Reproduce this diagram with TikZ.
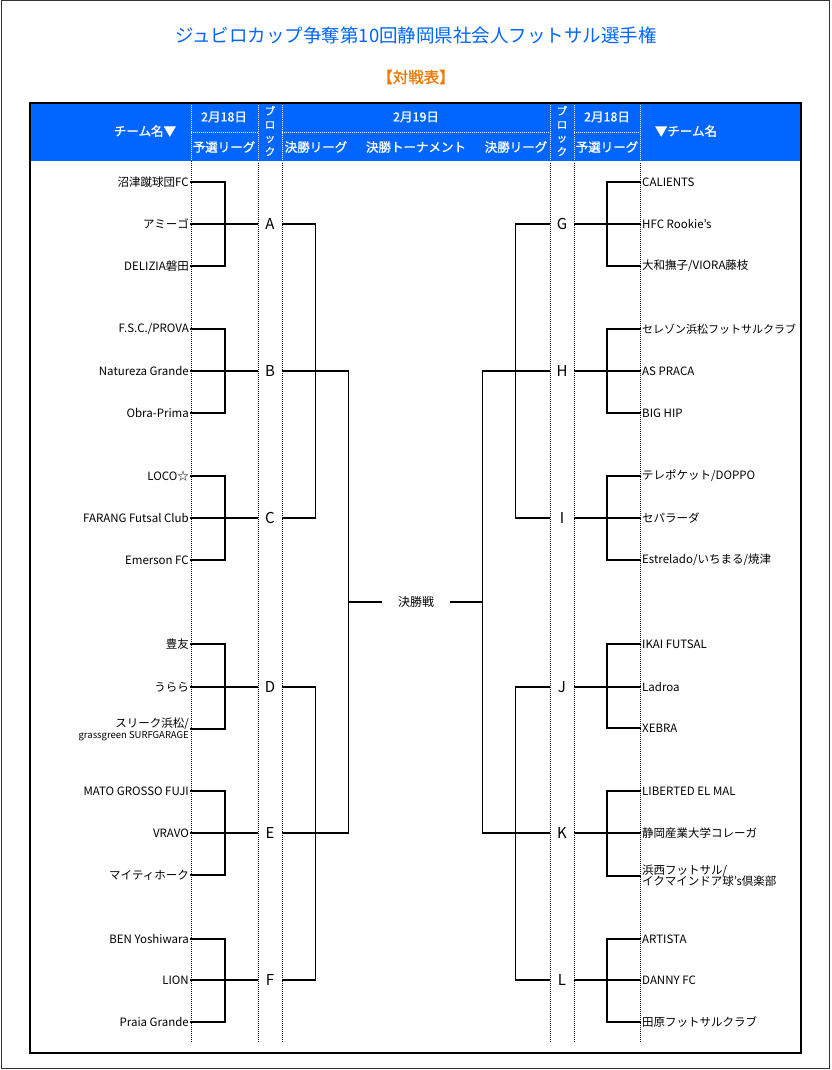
\documentclass[tikz,border=0pt]{standalone}
\usepackage{fontspec}
\setmainfont{Noto Sans CJK JP}
\newfontfamily\hdfont[FakeBold=1.2]{Noto Sans CJK JP}
\definecolor{hblue}{HTML}{0066FF}
\definecolor{torange}{HTML}{F07800}
\begin{document}
\begin{tikzpicture}[x=1pt,y=-1pt,
  lt/.style={anchor=east, inner sep=1pt, font=\fontsize{11.5}{13}\selectfont},
  rt/.style={anchor=west, inner sep=1pt, font=\fontsize{11.5}{13}\selectfont},
  blk/.style={minimum width=24pt, inner sep=0pt, font=\fontsize{15}{15}\selectfont},
  br/.style={line width=1.3pt, black},
  dotb/.style={line width=0.9pt, black, dash pattern=on 1pt off 1pt},
  dotw/.style={line width=0.9pt, white, dash pattern=on 1pt off 1pt},
  hd/.style={text=white, inner sep=0pt, font=\hdfont\fontsize{12.5}{14}\selectfont},
  ttl/.style={text=hblue, inner sep=0pt, font=\fontsize{18.5}{19}\selectfont},
  sub/.style={text=torange, inner sep=0pt, font=\hdfont\fontsize{15.5}{16}\selectfont},
  fin/.style={minimum width=68pt, inner sep=0pt, font=\fontsize{12}{12}\selectfont}]
\useasboundingbox (0,0) rectangle (831,1070);
\fill[white] (0,0) rectangle (831,1070);
\draw[line width=1pt, black!80] (1,1) rectangle (829.5,1068.5);

% title
\node[ttl] (title) at (416,35) {ジュビロカップ争奪第10回静岡県社会人フットサル選手権};
\node[sub] (subtitle) at (416,77) {【対戦表】};

% header
\fill[hblue] (30,103) rectangle (801,161);
\foreach \x in {191,258,282,550,574,640} {
  \draw[dotb] (\x,103) -- (\x,1043);
  \draw[dotw] (\x,103) -- (\x,161);
}
\foreach \a/\b in {191/258,282/550,574/640} {
  \draw[dotb] (\a,132) -- (\b,132);
  \draw[dotw] (\a,132) -- (\b,132);
}
\draw[dotb] (30,161) -- (801,161);
\draw[dotw] (30,161) -- (801,161);
\draw[line width=1.5pt] (30,103) rectangle (801,1053);

\node[hd] (hL) at (145,131) {チーム名▼};
\node[hd] (hLd) at (224,117) {2月18日};
\node[hd] (hLp) at (224,147) {予選リーグ};
\node[hd, align=center, font=\hdfont\fontsize{10.5}{13.5}\selectfont] (hLb) at (270,131) {ブ\\ロ\\ッ\\ク};
\node[hd] (hMd) at (416,117) {2月19日};
\node[hd] (hM1) at (316,147) {決勝リーグ};
\node[hd] (hM2) at (416,147) {決勝トーナメント};
\node[hd] (hM3) at (516,147) {決勝リーグ};
\node[hd, align=center, font=\hdfont\fontsize{10.5}{13.5}\selectfont] (hRb) at (562,131) {ブ\\ロ\\ッ\\ク};
\node[hd] (hRd) at (607,117) {2月18日};
\node[hd] (hRp) at (607,147) {予選リーグ};
\node[hd] (hR) at (686,131) {▼チーム名};

% left teams
\node[lt] (A1) at (190,182) {沼津蹴球団FC};
\node[lt] (A2) at (190,224) {アミーゴ};
\node[lt] (A3) at (190,266) {DELIZIA磐田};
\node[lt] (B1) at (190,329) {F.S.C./PROVA};
\node[lt] (B2) at (190,371) {Natureza Grande};
\node[lt] (B3) at (190,413) {Obra-Prima};
\node[lt] (C1) at (190,476) {LOCO☆};
\node[lt] (C2) at (190,518) {FARANG Futsal Club};
\node[lt] (C3) at (190,560) {Emerson FC};
\node[lt] (D1) at (190,644) {豊友};
\node[lt] (D2) at (190,687) {うらら};
\node[lt, align=right] (D3) at (190,729) {スリーク浜松/\\[-2pt]{\fontsize{9.5}{10}\selectfont grassgreen SURFGARAGE}};
\node[lt] (E1) at (190,791) {MATO GROSSO FUJI};
\node[lt] (E2) at (190,833) {VRAVO};
\node[lt] (E3) at (190,875) {マイティホーク};
\node[lt] (F1) at (190,939) {BEN Yoshiwara};
\node[lt] (F2) at (190,980) {LION};
\node[lt] (F3) at (190,1022) {Praia Grande};

% right teams
\node[rt] (G1) at (641,182) {CALIENTS};
\node[rt] (G2) at (641,224) {HFC Rookie’s};
\node[rt] (G3) at (641,266) {大和撫子/VIORA藤枝};
\node[rt, font=\fontsize{11}{13}\selectfont] (H1) at (641,329) {セレゾン浜松フットサルクラブ};
\node[rt] (H2) at (641,371) {AS PRACA};
\node[rt] (H3) at (641,413) {BIG HIP};
\node[rt] (I1) at (641,476) {テレポケット/DOPPO};
\node[rt] (I2) at (641,518) {セパラーダ};
\node[rt] (I3) at (641,560) {Estrelado/いちまる/焼津};
\node[rt] (J1) at (641,644) {IKAI FUTSAL};
\node[rt] (J2) at (641,687) {Ladroa};
\node[rt] (J3) at (641,728) {XEBRA};
\node[rt] (K1) at (641,791) {LIBERTED EL MAL};
\node[rt] (K2) at (641,833) {静岡産業大学コレーガ};
\node[rt, align=left] (K3) at (641,876) {浜西フットサル/\\[-2pt]イクマインドア球's倶楽部};
\node[rt] (L1) at (641,939) {ARTISTA};
\node[rt] (L2) at (641,980) {DANNY FC};
\node[rt] (L3) at (641,1022) {田原フットサルクラブ};

% blocks
\foreach \g/\y in {A/224,B/371,C/518,D/687,E/833,F/980}
  \node[blk] (\g) at (270,\y) {\g};
\foreach \g/\y in {G/224,H/371,I/518,J/687,K/833,L/980}
  \node[blk] (\g) at (562,\y) {\g};

\node[fin] (final) at (416,602) {決勝戦};
\coordinate (jl) at (348,602);
\coordinate (jr) at (483,602);

% brackets
\foreach \g in {A,B,C,D,E,F} {
  \draw[br] (\g1.east) -- ++(35,0) |- (\g3.east);
  \draw[br] (\g2.east) -- (\g.west);
}
\foreach \g in {G,H,I,J,K,L} {
  \draw[br] (\g1.west) -- ++(-34,0) |- (\g3.west);
  \draw[br] (\g2.west) -- (\g.east);
}
\draw[br] (A.east) -- ++(33,0) |- (C.east);
\draw[br] (D.east) -- ++(33,0) |- (F.east);
\draw[br] (B.east) -- ++(66,0) |- (E.east);
\draw[br] (G.west) -- ++(-34,0) |- (I.west);
\draw[br] (J.west) -- ++(-34,0) |- (L.west);
\draw[br] (H.west) -- ++(-67,0) |- (K.west);
\draw[br] (jl) -- (final.west);
\draw[br] (final.east) -- (jr);
\end{tikzpicture}
\end{document}
